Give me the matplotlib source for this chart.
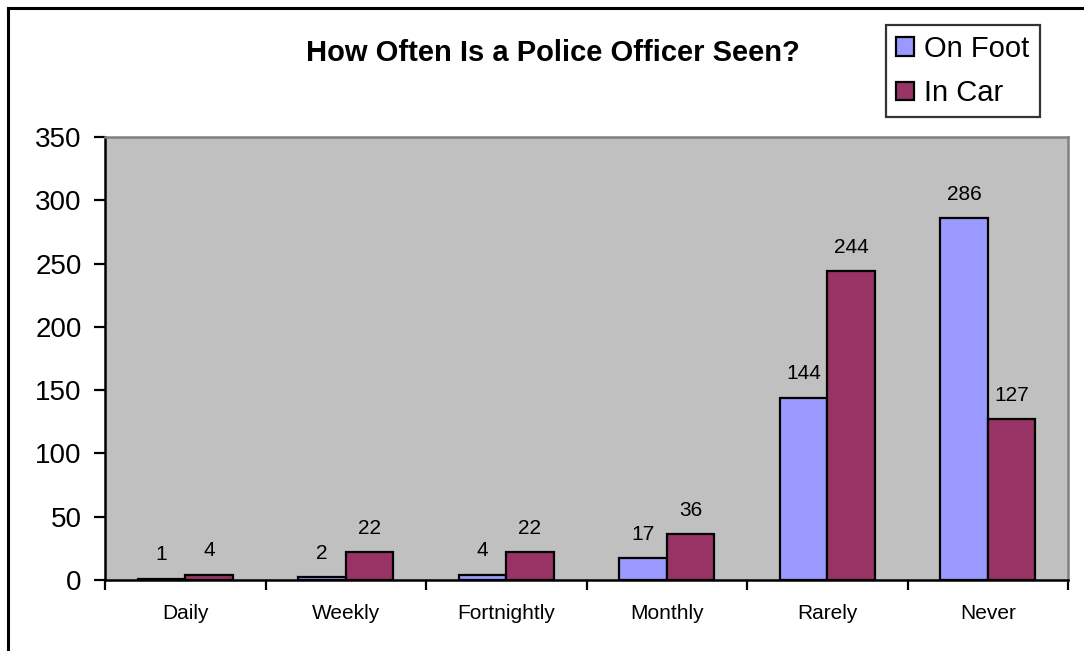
import matplotlib
matplotlib.use("Agg")
import matplotlib.pyplot as plt
import numpy as np

categories = ["Daily", "Weekly", "Fortnightly", "Monthly", "Rarely", "Never"]
on_foot = [1, 2, 4, 17, 144, 286]
in_car = [4, 22, 22, 36, 244, 127]
series_names = ["On Foot", "In Car"]
title = "How Often Is a Police Officer Seen?"

plt.rcParams['font.family'] = ['Liberation Sans', 'DejaVu Sans']

fig = plt.figure(figsize=(10.84, 6.51), dpi=100)
fig.patch.set_facecolor("white")

# figure border (top and left visible)
fig.add_artist(plt.Line2D([8/1084, 8/1084], [0, 1 - 8/651], color="black", lw=2.2, transform=fig.transFigure))
fig.add_artist(plt.Line2D([8/1084, 1], [1 - 8/651, 1 - 8/651], color="black", lw=2.2, transform=fig.transFigure))

ax = fig.add_axes([105/1084, 1 - 580/651, (1068 - 105)/1084, (580 - 137)/651])
ax.set_facecolor("#C0C0C0")

x = np.arange(len(categories)) + 0.5
w = 0.295
b1 = ax.bar(x - w/2, on_foot, width=w, color="#9999FF", edgecolor="black", linewidth=1.6, label=series_names[0])
b2 = ax.bar(x + w/2, in_car, width=w, color="#993366", edgecolor="black", linewidth=1.6, label=series_names[1])

for xi, v in zip(x - w/2, on_foot):
    ax.annotate(str(v), (xi, v), xytext=(0, 10.4), textcoords="offset points", ha="center", va="bottom", fontsize=15)
for xi, v in zip(x + w/2, in_car):
    ax.annotate(str(v), (xi, v), xytext=(0, 10.4), textcoords="offset points", ha="center", va="bottom", fontsize=15)

ax.set_xlim(0, len(categories))
ax.set_ylim(0, 350)
ax.set_yticks(np.arange(0, 351, 50))
ax.tick_params(axis="y", labelsize=20, length=8, width=1.6, direction="out", pad=8.8)
ax.set_xticks(np.arange(0, len(categories) + 1))
ax.set_xticklabels([])
ax.set_xticks(x, minor=True)
ax.set_xticklabels(categories, minor=True, fontsize=15)
ax.tick_params(axis="x", which="major", length=7, width=1.6, direction="out")
ax.tick_params(axis="x", which="minor", length=0, pad=17)

for s in ["left", "bottom"]:
    ax.spines[s].set_color("black")
    ax.spines[s].set_linewidth(1.8)
for s in ["top", "right"]:
    ax.spines[s].set_color("#808080")
    ax.spines[s].set_linewidth(1.8)

fig.text(553/1084, 1 - 53/651, title, ha="center", va="center", fontsize=21, fontweight="bold")

leg = fig.legend(handles=[b1, b2], labels=series_names, loc="upper left",
                 bbox_to_anchor=(886/1084, 1 - 25/651), fontsize=21, frameon=True,
                 fancybox=False, edgecolor="black", handlelength=0.62, handleheight=0.62,
                 handletextpad=0.35, borderpad=0.35, labelspacing=0.55, borderaxespad=0)
leg.get_frame().set_linewidth(1.6)

fig.savefig("out.png", dpi=100, facecolor="white")
